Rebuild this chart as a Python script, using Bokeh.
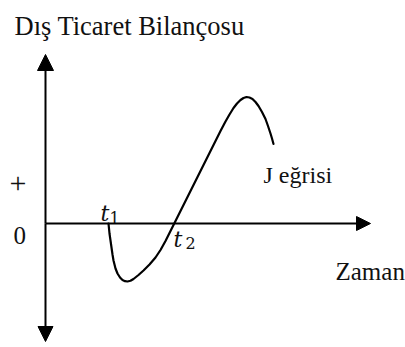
from bokeh.plotting import figure
from bokeh.models import Range1d, Arrow, NormalHead
from bokeh.core.properties import value
from bokeh.embed import file_html
from bokeh.resources import INLINE

# J-curve (time after devaluation, trade balance)
time = [63, 63.5, 64, 65, 66, 67, 68, 70, 72, 74.5, 77, 79.5, 82, 85, 88, 93, 98, 104, 110, 115, 120, 124, 128,
        132, 136, 141, 146, 152, 158, 164, 170, 175, 180, 184, 188, 191.5, 195, 198, 201, 204, 207, 210, 213,
        216.5, 220, 222.5, 225, 226.5, 228]
balance = [0, -5, -10, -17, -24, -31, -37, -45, -50, -54, -56.5, -57.7, -58, -57.3, -55.5, -51.5, -47, -41, -34, -26.5,
           -17.5, -9.5, -1.5, 6.5, 14.5, 24.5, 34.5, 46.5, 58.5, 70.5, 82.5, 92.5, 102, 109, 115.5, 120, 123.5, 125.5,
           126.5, 126, 124.5, 121.5, 117.5, 111.5, 104.5, 97.5, 90, 85, 79.5]

# axis extents (data units)
x_axis_end = 325
y_axis_top = 169
y_axis_bottom = -118

title_text = "Dış Ticaret Bilançosu"
plus_label = "+"
zero_label = "0"
curve_label = "J eğrisi"
x_label = "Zaman"
t_labels = ["t", "t"]
t_subs = ["1", "2"]
t_x = [55, 128]
t_y = [10, -16]
sub_x = [64, 140]
sub_y = [6, -19]

p = figure(width=405, height=347, output_backend="svg", toolbar_location=None,
           x_range=Range1d(-45, 360), y_range=Range1d(-124, 223),
           min_border=0, outline_line_color=None)
p.axis.visible = False
p.grid.visible = False
p.background_fill_color = "white"
p.border_fill_color = "white"

serif = value("Liberation Serif")

# axes with arrows
for (x1, y1, x2, y2, sz) in [(0, 0, x_axis_end, 0, 14), (0, 0, 0, y_axis_top, 16), (0, 0, 0, y_axis_bottom, 15)]:
    p.add_layout(Arrow(x_start=x1, y_start=y1, x_end=x2, y_end=y2, line_width=2, line_color="black",
                       end=NormalHead(size=sz, fill_color="black", line_color="black", line_width=1)))

p.line(time, balance, line_width=2.2, line_color="black", line_join="round", line_cap="round")

p.text(x=[-31], y=[198], text=[title_text], text_font=serif, text_font_size="26.5px",
       text_color="#111111", text_baseline="alphabetic")
p.text(x=[-36], y=[40], text=[plus_label], text_font=serif, text_font_size="30px",
       text_color="#111111", text_baseline="alphabetic")
p.text(x=[-32], y=[-12], text=[zero_label], text_font=serif, text_font_size="25px",
       text_color="#111111", text_baseline="alphabetic")
p.text(x=[218], y=[49], text=[curve_label], text_font=serif, text_font_size="24px",
       text_color="#111111", text_baseline="alphabetic")
p.text(x=[290], y=[-48], text=[x_label], text_font=serif, text_font_size="25px",
       text_color="#111111", text_baseline="alphabetic")

p.text(x=t_x, y=t_y, text=t_labels, text_font=value("DejaVu Serif"), text_font_style="italic",
       text_font_size="22px", text_color="#111111", text_baseline="alphabetic")
p.text(x=sub_x, y=sub_y, text=t_subs, text_font=value("DejaVu Serif"),
       text_font_size="16px", text_color="#111111", text_baseline="alphabetic")

open("out.html", "w").write(file_html(p, INLINE))
